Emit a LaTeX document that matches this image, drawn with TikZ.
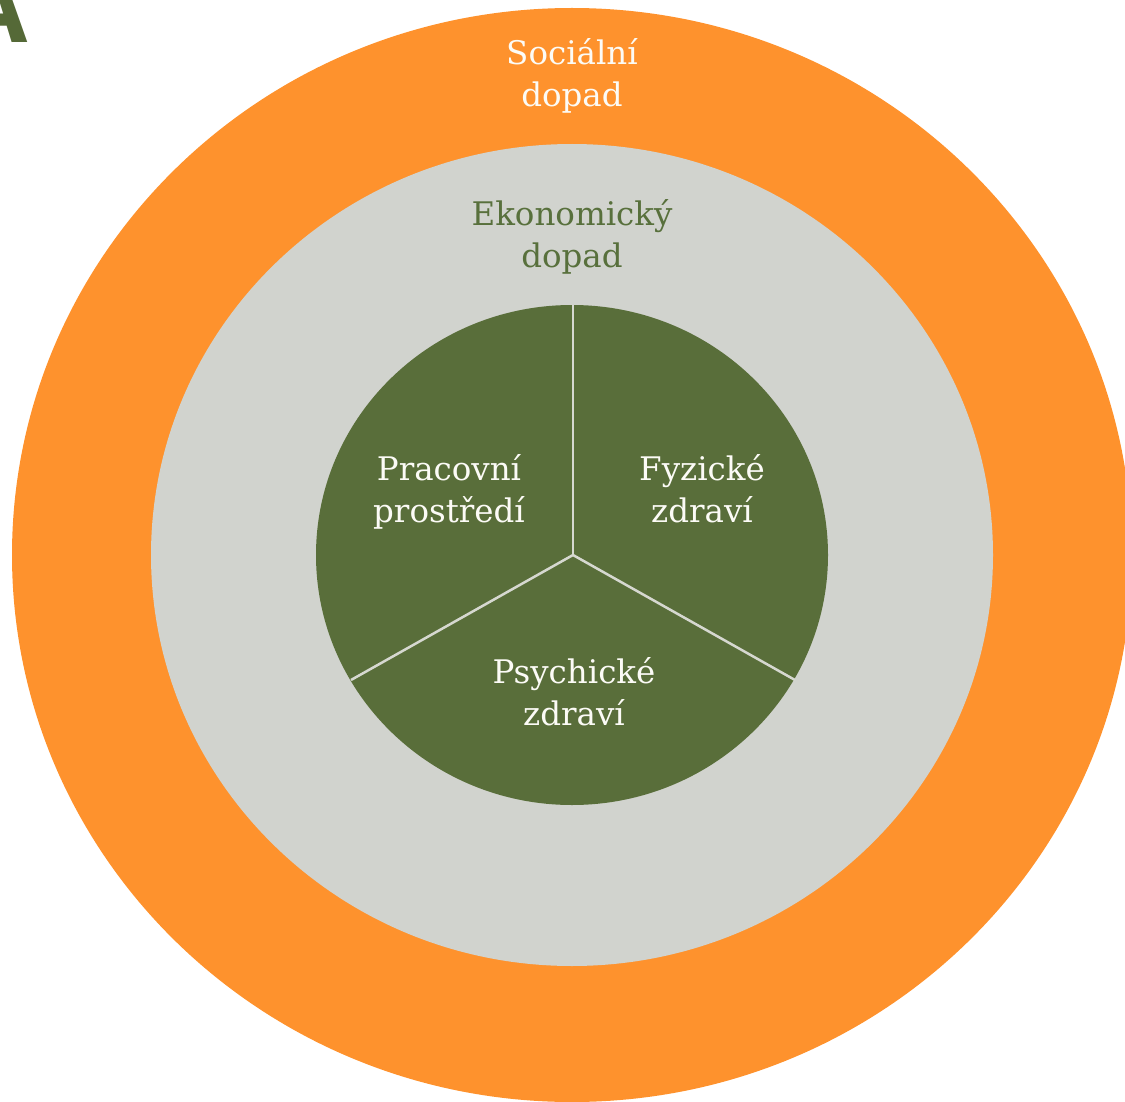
\documentclass[tikz,border=0pt]{standalone}
\usepackage{fontspec}
\setmainfont{DejaVu Serif}
\newfontfamily\tagfont{Open Sans}[BoldFont={* Bold}]
\definecolor{orng}{RGB}{254,146,45}
\definecolor{ltgray}{RGB}{209,211,206}
\definecolor{olive}{RGB}{89,110,58}
\definecolor{olivetext}{RGB}{88,112,60}
\definecolor{spoke}{RGB}{214,216,208}
\definecolor{cream}{RGB}{252,251,246}
\begin{document}
\begin{tikzpicture}[x=1pt,y=-1pt,
  lbl/.style={font=\fontsize{32.5}{42}\selectfont, align=center, inner sep=0pt, anchor=base},
  spokeline/.style={draw=spoke, line width=2.5pt}]
\useasboundingbox (0,0) rectangle (1125,1102);
\clip (0,0) rectangle (1125,1102);
\coordinate (c) at (572,555);
\fill[orng] (c) ellipse [x radius=560, y radius=547];
\fill[ltgray] (c) ellipse [x radius=421, y radius=411];
\fill[olive] (c) ellipse [x radius=256, y radius=250];
\coordinate (hub) at (573,555);
\coordinate (ptop) at (573,305);
\coordinate (pleft) at (351,680);
\coordinate (pright) at (795,680);
\draw[spokeline] (hub) -- (ptop);
\draw[spokeline] (hub) -- (pleft);
\draw[spokeline] (hub) -- (pright);
\node[lbl, text=cream] (soc) at (572,107) {Sociální\\dopad};
\node[lbl, text=olivetext] (eko) at (572,268) {Ekonomický\\dopad};
\node[lbl, text=cream] (prac) at (449,522) {Pracovní\\prostředí};
\node[lbl, text=cream] (fyz) at (702,522) {Fyzické\\zdraví};
\node[lbl, text=cream] (psy) at (574,725) {Psychické\\zdraví};
\node[font=\fontsize{96}{96}\selectfont\tagfont\bfseries, text=olive!95!black, inner sep=0pt, anchor=base east] (tagA) at (28,43) {A};
\end{tikzpicture}
\end{document}
